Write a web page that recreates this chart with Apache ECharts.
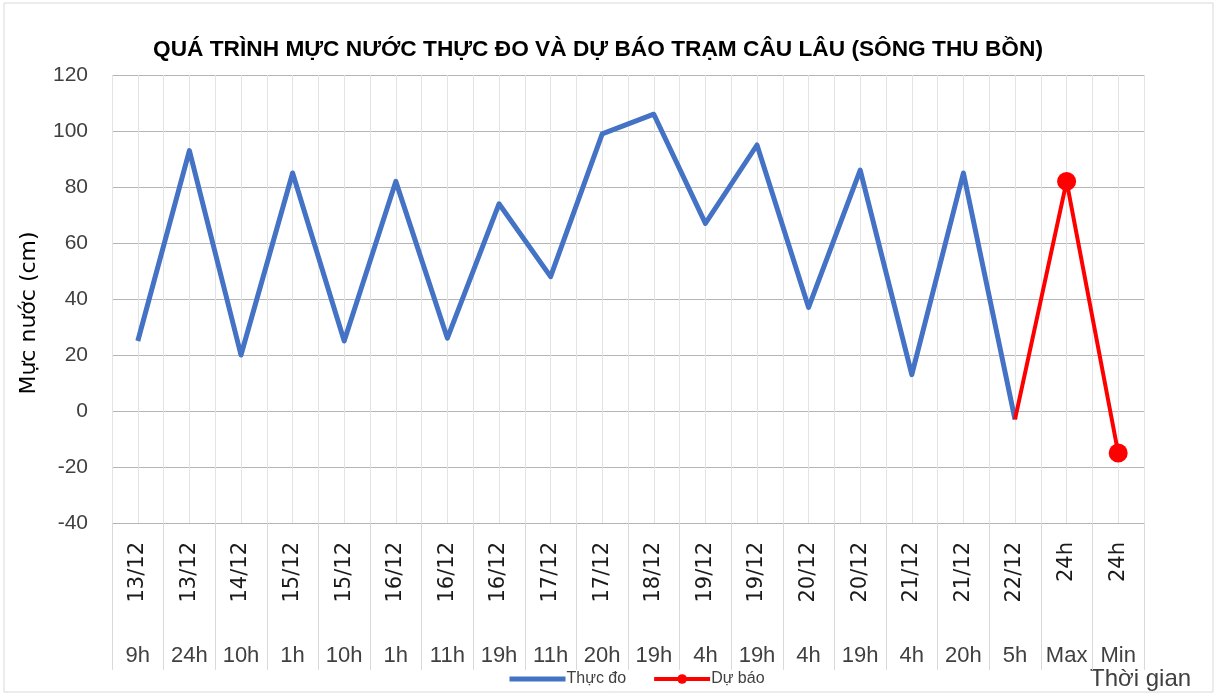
<!DOCTYPE html>
<html>
<head>
    <meta charset="utf-8">
    <title>Câu Lâu</title>
    <script src="https://cdn.jsdelivr.net/npm/echarts@6/dist/echarts.min.js"></script>
</head>
<body style="margin:0">
    <div id="main" style="width: 1217px;height:695px;"></div>
    <script>
        // nhãn trục hoành (2 tầng: ngày / giờ)
        var ngay = ['13/12', '13/12', '14/12', '15/12', '15/12', '16/12', '16/12', '16/12', '17/12', '17/12',
            '18/12', '19/12', '19/12', '20/12', '20/12', '21/12', '21/12', '22/12', '24h', '24h'];
        var gio = ['9h', '24h', '10h', '1h', '10h', '1h', '11h', '19h', '11h', '20h',
            '19h', '4h', '19h', '4h', '19h', '4h', '20h', '5h', 'Max', 'Min'];
        // mực nước (cm)
        var thucDo = [25, 93, 20, 85, 25, 82, 26, 74, 48, 99, 106, 67, 95, 37, 86, 13, 85, -3, null, null];
        var duBao = [null, null, null, null, null, null, null, null, null, null,
            null, null, null, null, null, null, null, -3, 82, -15];
        var yTicks = [-40, 120, 20];

        var narrow = "'Liberation Sans Narrow', 'Liberation Sans', sans-serif";
        var wide = "'DejaVu Sans', sans-serif";

        var myChart = echarts.init(document.getElementById('main'));

        var option = {
            backgroundColor: '#ffffff',
            animation: false,
            title: {
                text: 'QUÁ TRÌNH MỰC NƯỚC THỰC ĐO VÀ DỰ BÁO TRẠM CÂU LÂU (SÔNG THU BỒN)',
                left: 593,
                top: 33,
                textAlign: 'center',
                textStyle: {
                    fontFamily: narrow,
                    fontWeight: 'bold',
                    fontSize: 22.7,
                    color: '#000'
                }
            },
            legend: {
                left: 502,
                top: 666,
                itemWidth: 56,
                itemHeight: 12,
                itemGap: 26,
                lineStyle: { width: 'inherit' },
                textStyle: {
                    fontFamily: narrow,
                    fontSize: 16,
                    color: '#404040',
                    padding: [0, 0, 0, -4]
                },
                data: [{ name: 'Thực đo', itemStyle: { opacity: 0 } }, 'Dự báo']
            },
            grid: [{
                left: 112,
                right: 73,
                top: 75,
                bottom: 172
            }, {
                // vùng nhãn phía dưới (chỉ để vẽ vạch phân cách)
                left: 112,
                right: 73,
                top: 523,
                height: 147
            }],
            graphic: [{
                type: 'rect',
                shape: { x: 4, y: 3, width: 1209, height: 689 },
                style: { fill: 'none', stroke: '#d9d9d9', lineWidth: 1 }
            }, {
                type: 'text',
                left: 1090,
                top: 667,
                style: {
                    text: 'Thời gian',
                    font: '24px ' + narrow,
                    fill: '#404040'
                }
            }],
            xAxis: [{
                type: 'category',
                data: ngay,
                position: 'bottom',
                boundaryGap: true,
                axisLine: { show: false },
                axisTick: { show: false },
                axisLabel: {
                    interval: 0,
                    rotate: 90,
                    margin: 19,
                    fontFamily: wide,
                    fontSize: 21,
                    color: '#1a1a1a'
                },
                splitLine: { show: false }
            }, {
                type: 'category',
                data: gio,
                position: 'bottom',
                boundaryGap: true,
                axisLine: { show: false },
                axisTick: { show: false },
                axisLabel: {
                    interval: 0,
                    margin: 122,
                    fontFamily: narrow,
                    fontSize: 22,
                    color: '#404040'
                },
                splitLine: { show: false }
            }, {
                // lưới dọc theo nửa khoảng
                type: 'value',
                position: 'top',
                min: 0,
                max: ngay.length * 2,
                interval: 1,
                axisLine: { show: false },
                axisTick: { show: false },
                axisLabel: { show: false },
                splitLine: { show: true, lineStyle: { color: '#e3e3e3', width: 1 } }
            }, {
                gridIndex: 1,
                type: 'value',
                min: 0,
                max: ngay.length,
                interval: 1,
                axisLine: { show: false },
                axisTick: { show: false },
                axisLabel: { show: false },
                splitLine: { show: true, lineStyle: { color: '#d9d9d9', width: 1 } }
            }],
            yAxis: [{
                type: 'value',
                min: yTicks[0],
                max: yTicks[1],
                interval: yTicks[2],
                name: 'Mực nước (cm)',
                nameLocation: 'middle',
                nameGap: 72,
                nameTextStyle: {
                    fontFamily: wide,
                    fontSize: 22,
                    color: '#000',
                    padding: [0, 28, 0, 0]
                },
                axisLine: { show: false },
                axisTick: { show: false },
                axisLabel: {
                    margin: 24,
                    fontFamily: narrow,
                    fontSize: 21,
                    color: '#404040'
                },
                splitLine: { lineStyle: { color: '#b5b5b5', width: 1 } }
            }, {
                gridIndex: 1,
                type: 'value',
                min: 0,
                max: 1,
                show: false
            }],
            series: [{
                name: 'Thực đo',
                type: 'line',
                xAxisIndex: 0,
                yAxisIndex: 0,
                symbol: 'none',
                z: 3,
                lineStyle: { color: '#4472C4', width: 5, join: 'round' },
                itemStyle: { color: '#4472C4' },
                data: thucDo
            }, {
                name: 'Dự báo',
                type: 'line',
                xAxisIndex: 0,
                yAxisIndex: 0,
                symbol: 'circle',
                symbolSize: 19,
                z: 4,
                lineStyle: { color: '#FF0000', width: 4 },
                itemStyle: { color: '#FF0000' },
                data: duBao.map(function (v, i) {
                    // điểm nối với chuỗi thực đo không có chấm tròn
                    if (v !== null && i > 0 && duBao[i - 1] === null) {
                        return { value: v, symbol: 'none' };
                    }
                    return v;
                })
            }]
        };
        myChart.setOption(option);
    </script>
</body>
</html>
